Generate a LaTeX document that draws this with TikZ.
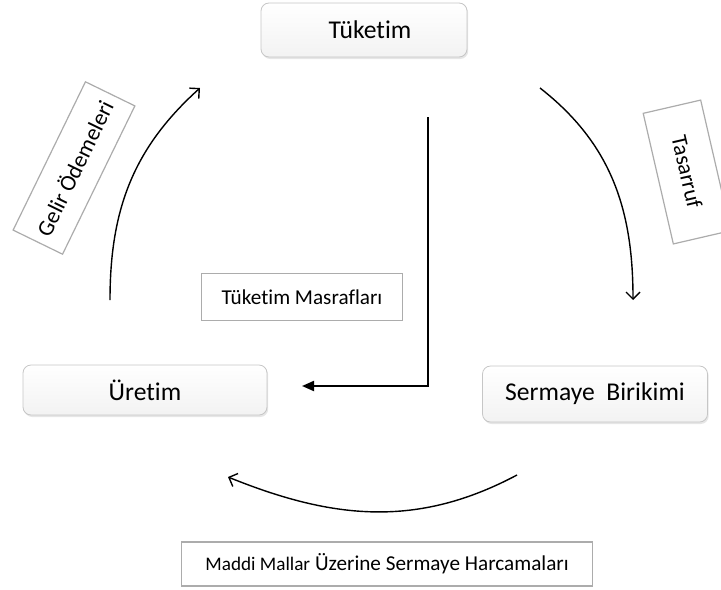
\documentclass[tikz,border=0pt]{standalone}
\usepackage{fontspec}
\setmainfont{Carlito}[Ligatures={NoCommon}]
\usetikzlibrary{arrows.meta,shadows}

\begin{document}
\begin{tikzpicture}[x=0.5pt,y=0.5pt,
    mainbox/.style={draw=gray!45,rounded corners=4pt,top color=white,bottom color=gray!10,
      drop shadow={opacity=0.2,shadow xshift=0.6pt,shadow yshift=-1pt},
      font=\fontsize{12.8}{15}\selectfont,inner sep=0pt},
    labelbox/.style={draw=gray!65,line width=0.6pt,fill=white,inner sep=0pt,
      font=\fontsize{10.6}{13}\selectfont},
    flow/.style={line width=0.7pt,-{Straight Barb[length=3.5pt,width=7pt]}},
    spend/.style={line width=1pt,-{Triangle[length=6pt,width=5pt]}}]
  \useasboundingbox (0,0) rectangle (721,-589);

  %nodes
  \node[mainbox,minimum width=103pt,minimum height=27pt] (tuketim) at (364,-30) {\hspace{6pt}Tüketim};
  \node[mainbox,minimum width=122pt,minimum height=25pt] (uretim) at (145,-390) {Üretim};
  \node[mainbox,minimum width=112.5pt,minimum height=28pt] (birikim) at (595,-394) {Sermaye\ \ Birikimi};

  %labels
  \node[labelbox,minimum width=82.5pt,minimum height=27.5pt,rotate=64,
    font=\fontsize{11.4}{14}\selectfont] (gelir) at (74,-168) {Gelir Ödemeleri};
  \node[labelbox,minimum width=67pt,minimum height=29.5pt,rotate=-77,
    font=\fontsize{11.2}{13}\selectfont] (tasarruf) at (687,-172) {Tasarruf};
  \node[labelbox,minimum width=100.5pt,minimum height=23.5pt] (masraf) at (302,-297) {Tüketim Masrafları};
  \node[labelbox,minimum width=205.5pt,minimum height=22pt] (harcama) at (387,-564)
    {{\fontsize{9.6}{12}\selectfont Maddi Mallar} Üzerine Sermaye Harcamaları};

  %arrow ends
  \coordinate (g1) at (110,-300);  \coordinate (g2) at (200,-88);
  \coordinate (t1) at (540,-88);   \coordinate (t2) at (633,-300);
  \coordinate (h1) at (517,-475);  \coordinate (h2) at (228,-477);
  \coordinate (m1) at (428,-117);  \coordinate (m2) at (302,-386);

  %arrows
  \draw[flow] (g1) to[out=90,in=222] (g2);
  \draw[flow] (t1) to[out=-38,in=90] (t2);
  \draw[flow] (h1) to[out=208,in=-22] (h2);
  \draw[spend] (m1) |- (m2);
\end{tikzpicture}
\end{document}
